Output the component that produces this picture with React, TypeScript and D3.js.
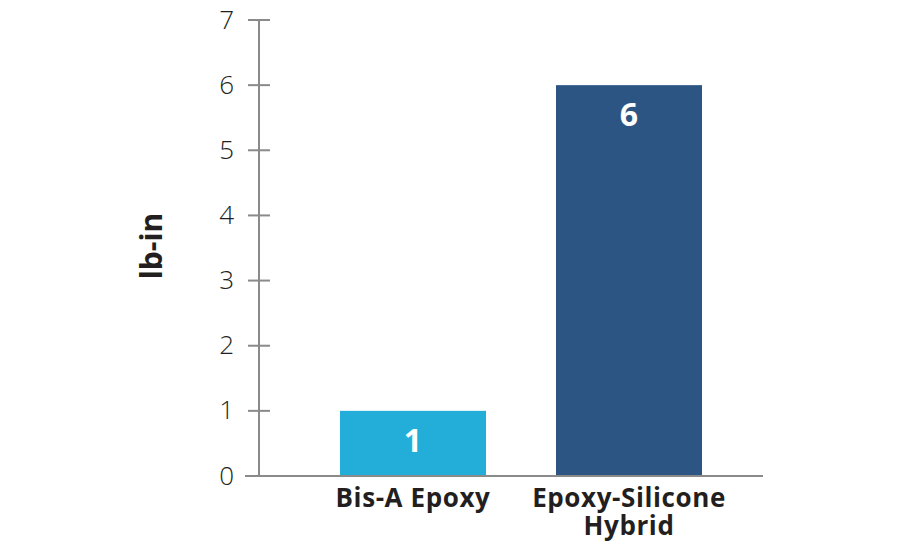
import React from "react";
import * as d3 from "d3";

const categories: string[][] = [["Bis-A Epoxy"], ["Epoxy-Silicone", "Hybrid"]];
const values: number[] = [1, 6];
const valueLabels: string[] = ["1", "6"];
const colors: string[] = ["#22aed9", "#2d5584"];
const yTicks: number[] = [0, 1, 2, 3, 4, 5, 6, 7];
const yTitle = "lb-in";

export default function App() {
  const W = 900, H = 550;
  const y = d3.scaleLinear().domain([0, 7]).range([476, 20]);
  const keys = categories.map((c) => c.join(" "));
  const x = d3.scaleBand<string>().domain(keys).range([305, 737]).paddingInner(0.324).paddingOuter(0.162);
  const font = "'Open Sans', 'Noto Sans', sans-serif";
  const axisColor = "#8a8a8a";
  return (
    <svg width={W} height={H} style={{ position: "absolute", left: 0, top: 0, background: "#fff" }}>
      {keys.map((k, i) => (
        <g key={k}>
          <rect x={x(k)} y={y(values[i])} width={x.bandwidth()} height={y(0) - y(values[i])} fill={colors[i]} />
          <text x={(x(k) as number) + x.bandwidth() / 2} y={y(values[i]) + 41} textAnchor="middle" fill="#fff" fontFamily={font} fontWeight={700} fontSize={32}>{valueLabels[i]}</text>
          {categories[i].map((line, j) => (
            <text key={j} x={(x(k) as number) + x.bandwidth() / 2} y={507 + j * 28} textAnchor="middle" fill="#231f20" fontFamily={font} fontWeight={700} fontSize={26} letterSpacing={0.6}>{line}</text>
          ))}
        </g>
      ))}
      <line x1={259} x2={259} y1={y(7)} y2={y(0)} stroke={axisColor} strokeWidth={2} />
      <line x1={245} x2={763} y1={y(0)} y2={y(0)} stroke={axisColor} strokeWidth={2} />
      {yTicks.map((t) => (
        <g key={t}>
          <line x1={248} x2={270} y1={y(t)} y2={y(t)} stroke={axisColor} strokeWidth={2} />
          <text x={234} y={y(t)} dy="0.33em" textAnchor="end" fill="#231f20" fontFamily={font} fontWeight={300} fontSize={26}>{t}</text>
        </g>
      ))}
      <text transform={`translate(162,246) rotate(-90)`} textAnchor="middle" fill="#231f20" fontFamily={font} fontWeight={700} fontSize={30}>{yTitle}</text>
    </svg>
  );
}
